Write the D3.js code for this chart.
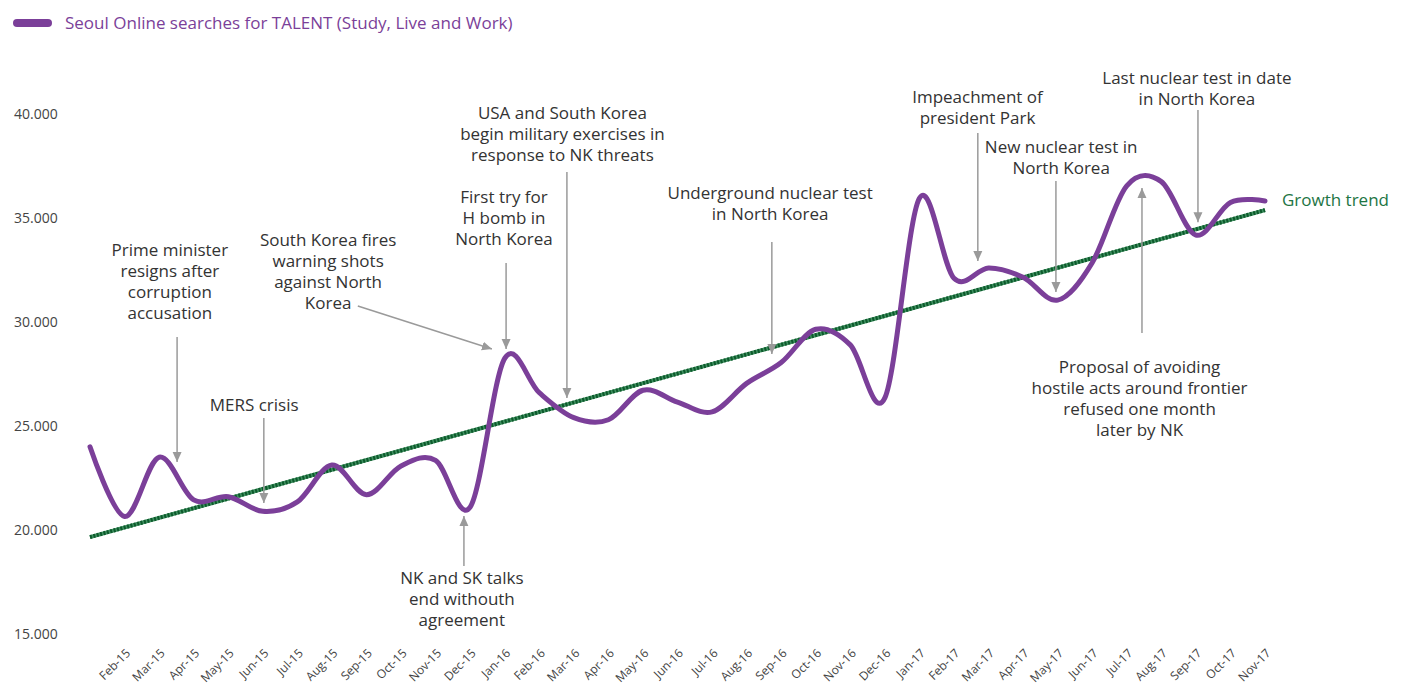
<!DOCTYPE html>
<html>
<head>
<meta charset="utf-8">
<script src="https://cdn.jsdelivr.net/npm/d3@7"></script>
<style>
  body { margin: 0; background: #fff; }
  svg { font-family: "Open Sans", "Noto Sans", sans-serif; }
</style>
</head>
<body>
<div id="chart"></div>
<script>
// months of the series (Jan-15 has no label in the original)
var months = ["Jan-15","Feb-15","Mar-15","Apr-15","May-15","Jun-15","Jul-15","Aug-15","Sep-15","Oct-15","Nov-15","Dec-15",
  "Jan-16","Feb-16","Mar-16","Apr-16","May-16","Jun-16","Jul-16","Aug-16","Sep-16","Oct-16","Nov-16","Dec-16",
  "Jan-17","Feb-17","Mar-17","Apr-17","May-17","Jun-17","Jul-17","Aug-17","Sep-17","Oct-17","Nov-17"];

var searches = [24000, 20650, 23500, 21450, 21600, 20900, 21350, 23120, 21700, 23080, 23350, 21100,
  28250, 26600, 25400, 25300, 26720, 26150, 25680, 27050, 28050, 29650, 28900, 26350,
  35950, 32100, 32600, 32150, 31050, 32850, 36550, 36750, 34180, 35750, 35820];

var trendValues = [19660, 35380];
var yTicks = [15000, 20000, 25000, 30000, 35000, 40000];

var seriesName = "Seoul Online searches for TALENT (Study, Live and Work)";
var trendName = "Growth trend";

// annotations in data units: month index for x, search value for y
var notes = [
  { lines: ["Prime minister", "resigns after", "corruption", "accusation"], tx: 2.31, ty: 33460, ax: 2.52, from: 29280, to: 23270 },
  { lines: ["MERS crisis"], tx: 4.75, ty: 26010, ax: 5.03, from: 25385, to: 21300 },
  { lines: ["South Korea fires", "warning shots", "against North", "Korea"], tx: 6.89, ty: 33940, ax: 7.75, from: 30770, ax2: 11.63, to: 28700 },
  { lines: ["NK and SK talks", "end withouth", "agreement"], tx: 10.76, ty: 17690, ax: 10.82, from: 18270, to: 20670 },
  { lines: ["First try for", "H bomb in", "North Korea"], tx: 11.98, ty: 36010, ax: 12.04, from: 32840, to: 28700 },
  { lines: ["USA and South Korea", "begin military exercises in", "response to NK threats"], tx: 13.67, ty: 40050, ax: 13.80, from: 37210, to: 26350 },
  { lines: ["Underground nuclear test", "in North Korea"], tx: 19.68, ty: 36200, ax: 19.73, from: 33850, to: 28460 },
  { lines: ["Impeachment of", "president Park"], tx: 25.68, ty: 40820, ax: 25.69, from: 39090, to: 32930 },
  { lines: ["New nuclear test in", "North Korea"], tx: 28.1, ty: 38410, ax: 27.95, from: 36780, to: 31440 },
  { lines: ["Last nuclear test in date", "in North Korea"], tx: 32.03, ty: 41730, ax: 32.06, from: 40190, to: 34800 },
  { lines: ["Proposal of avoiding", "hostile acts around frontier", "refused one month", "later by NK"], tx: 30.37, ty: 27840, ax: 30.44, from: 29470, to: 36440 }
];

var svgWidth = 1406;
var svgHeight = 686;

var purple = "#7b3f99";
var green = "#1d7544";

var svg = d3.select("#chart")
  .append("svg")
  .attr("width", svgWidth)
  .attr("height", svgHeight);

var x = d3.scaleLinear()
  .domain([0, months.length - 1])
  .range([90, 1265]);

var y = d3.scaleLinear()
  .domain([15000, 40000])
  .range([634, 114]);

// y axis, labels only ("40.000" style)
var yAxis = svg.append("g")
  .attr("transform", "translate(14,0)")
  .call(d3.axisLeft(y).tickValues(yTicks).tickSize(0).tickFormat(function(d) { return d3.format(",")(d).replace(",", "."); }));
yAxis.select(".domain").remove();
yAxis.selectAll("text")
  .attr("x", 0)
  .attr("text-anchor", "start")
  .attr("font-family", "Open Sans")
  .attr("font-size", 14)
  .attr("fill", "#444");

// x axis, rotated month labels
var xAxis = svg.append("g")
  .attr("transform", "translate(0,652)")
  .call(d3.axisBottom(x)
    .tickValues(d3.range(1, months.length))
    .tickSize(0)
    .tickFormat(function(i) { return months[i]; }));
xAxis.select(".domain").remove();
xAxis.selectAll("text")
  .attr("x", 0)
  .attr("y", 0)
  .attr("dy", "0.35em")
  .attr("text-anchor", "end")
  .attr("transform", "translate(3,-1) rotate(-45)")
  .attr("font-family", "Open Sans")
  .attr("font-size", 12)
  .attr("fill", "#444");

// trend line (dotted texture)
var trendLine = d3.line()
  .x(function(d, i) { return x(i * (months.length - 1)); })
  .y(function(d) { return y(d); });

svg.append("path")
  .attr("d", trendLine(trendValues))
  .attr("fill", "none")
  .attr("stroke", "#3f9160")
  .attr("stroke-width", 4);
svg.append("path")
  .attr("d", trendLine(trendValues))
  .attr("fill", "none")
  .attr("stroke", "#0d5a2c")
  .attr("stroke-width", 4)
  .attr("stroke-dasharray", "2,1.5");

svg.append("text")
  .attr("x", x(months.length - 1) + 17)
  .attr("y", y(35870))
  .attr("dy", "0.35em")
  .attr("font-size", 17)
  .attr("fill", green)
  .text(trendName);

// main series
var line = d3.line()
  .x(function(d, i) { return x(i); })
  .y(function(d) { return y(d); })
  .curve(d3.curveCatmullRom.alpha(0));

svg.append("path")
  .attr("d", line(searches))
  .attr("fill", "none")
  .attr("stroke", purple)
  .attr("stroke-width", 5)
  .attr("stroke-linecap", "round");

// legend
svg.append("line")
  .attr("x1", 17).attr("x2", 48)
  .attr("y1", 23).attr("y2", 23)
  .attr("stroke", purple)
  .attr("stroke-width", 8)
  .attr("stroke-linecap", "round");
svg.append("text")
  .attr("x", 65)
  .attr("y", 23)
  .attr("dy", "0.35em")
  .attr("font-size", 17)
  .attr("fill", purple)
  .text(seriesName);

// arrows
var defs = svg.append("defs");
defs.append("marker")
  .attr("id", "arrow")
  .attr("viewBox", "0 0 10 10")
  .attr("refX", 10)
  .attr("refY", 5)
  .attr("markerUnits", "userSpaceOnUse")
  .attr("markerWidth", 10)
  .attr("markerHeight", 10)
  .attr("orient", "auto")
  .append("path")
  .attr("d", "M0,0.5 L10,5 L0,9.5 Z")
  .attr("fill", "#9a9a9a");

var noteGroups = svg.selectAll(".note")
  .data(notes)
  .enter()
  .append("g")
  .attr("class", "note");

noteGroups.append("line")
  .attr("x1", function(d) { return x(d.ax); })
  .attr("y1", function(d) { return y(d.from); })
  .attr("x2", function(d) { return x(d.ax2 !== undefined ? d.ax2 : d.ax); })
  .attr("y2", function(d) { return y(d.to); })
  .attr("stroke", "#9a9a9a")
  .attr("stroke-width", 1.5)
  .attr("marker-end", "url(#arrow)");

noteGroups.append("text")
  .attr("text-anchor", "middle")
  .attr("font-size", 17)
  .attr("fill", "#333")
  .attr("transform", function(d) { return "translate(" + x(d.tx) + "," + y(d.ty) + ")"; })
  .selectAll("tspan")
  .data(function(d) { return d.lines; })
  .enter()
  .append("tspan")
  .attr("x", 0)
  .attr("y", function(d, i) { return i * 21; })
  .attr("dy", "0.35em")
  .text(function(d) { return d; });
</script>
</body>
</html>
